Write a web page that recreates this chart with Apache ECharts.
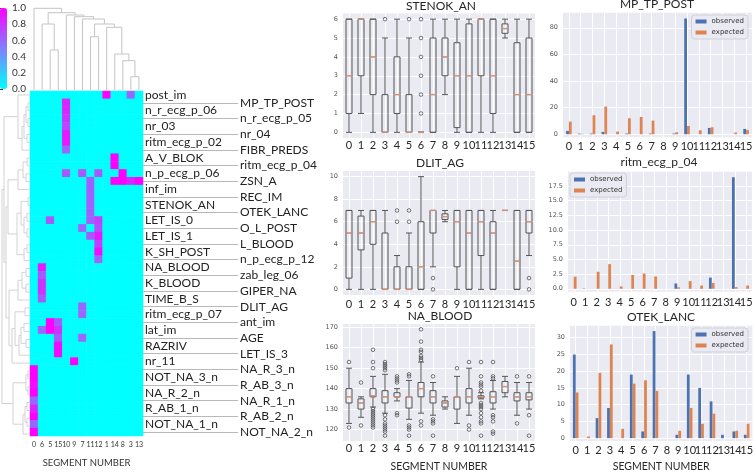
<!DOCTYPE html>
<html><head><meta charset="utf-8">
<script src="https://cdn.jsdelivr.net/npm/echarts@6/dist/echarts.min.js"></script>
<style>html,body{margin:0;padding:0;background:#fff}#c{width:756px;height:473px}</style>
</head><body><div id="c"></div>
<script>
// ---------------- DATA ----------------
const heatCols = ['0','6','5','15','10','9','7','11','12','1','14','8','3','13'];
const leftLabels = ['post_im','n_r_ecg_p_06','nr_03','ritm_ecg_p_02','A_V_BLOK','n_p_ecg_p_06','inf_im','STENOK_AN','LET_IS_0','LET_IS_1','K_SH_POST','NA_BLOOD','K_BLOOD','TIME_B_S','ritm_ecg_p_07','lat_im','RAZRIV','nr_11','NOT_NA_3_n','NA_R_2_n','R_AB_1_n','NOT_NA_1_n'];
const rightLabels = ['MP_TP_POST','n_r_ecg_p_05','nr_04','FIBR_PREDS','ritm_ecg_p_04','ZSN_A','REC_IM','OTEK_LANC','O_L_POST','L_BLOOD','n_p_ecg_p_12','zab_leg_06','GIPER_NA','DLIT_AG','ant_im','AGE','LET_IS_3','NA_R_3_n','R_AB_3_n','NA_R_1_n','R_AB_2_n','NOT_NA_2_n'];
// non-cyan cells: [column index, row index, value]
const heatCells = [
 [9,0,1.0],[12,0,0.6],
 [4,1,0.85],[4,2,0.85],[4,3,0.8],[4,4,0.72],[4,5,0.9],[4,6,0.9],[4,7,0.6],
 [10,8,1.0],[10,9,1.0],
 [11,10,1.0],[4,10,0.65],[6,10,0.65],[8,10,0.65],
 [10,11,1.0],[11,11,1.0],[12,11,0.85],[13,11,1.0],
 [7,11,0.62],[7,12,0.62],[7,13,0.62],[7,14,0.62],[7,15,0.62],
 [2,16,0.65],[7,16,0.62],[8,16,0.75],
 [6,17,0.6],[8,17,0.7],
 [7,18,0.65],[8,18,0.9],
 [8,19,0.75],[8,20,0.95],[8,21,0.6],
 [1,22,0.9],[1,23,0.65],[1,24,0.8],[1,25,0.8],[1,26,0.65],
 [6,27,0.6],[6,28,0.6],
 [2,29,1.0],[3,29,0.65],
 [1,30,0.6],[2,30,1.0],[3,30,0.8],
 [3,31,0.65],[6,31,0.6],
 [3,32,0.95],[3,33,0.95],
 [5,34,1.0],
 [0,35,1.0],[0,36,1.0],[0,37,0.95],[0,38,1.0],[0,39,0.6],[0,40,0.85],[0,41,1.0],[0,42,0.6],[0,43,1.0]
];
const colorbarTicks = [0,0.2,0.4,0.6,0.8,1.0];
// dendrogram merges: [child a, child b, height]; leaves are display positions
const topLinkage = [
 [12,13,13.3],[11,14,29.3],[10,15,36],[2,3,40],[7,8,53.3],[9,16,62.7],
 [1,17,66],[18,19,66],[6,21,71],[5,22,73.3],[4,23,75],[20,24,77.3],[0,25,81.7]
];
const leftLinkage = [
 [1,2,2],[3,4,2],[44,45,4],[5,6,3],[46,47,6],[48,7,8],[0,49,12],
 [8,9,3],[10,11,4],[51,52,7],[53,12,12],
 [13,14,2],[15,16,3],[17,18,3],[56,57,6],[55,58,9],[19,20,3],[60,21,6],[59,61,13],
 [22,23,4],[24,25,4],[63,64,8],[65,26,12],
 [27,28,5],[29,30,6],[31,32,4],[68,69,9],[70,33,11],[67,71,15],[72,34,18],
 [35,36,2],[37,38,2],[74,75,4],[39,40,3],[41,42,3],[77,78,5],[79,43,7],[76,80,17],
 [54,62,22],[66,73,21],[82,83,24],[50,84,26],[85,81,28]
];

const segments = ['0','1','2','3','4','5','6','7','8','9','10','11','12','13','14','15'];

// boxplots: [lower whisker, Q1, median, Q3, upper whisker]
const stenokBox = [
 [0,1,3,6,6],[1,3,6,6,6],[0,2,4,6,6],[0,0,0,2,5],[0,1,2,4,6],[0,0,0,2,5],[0,0,0,0,0],[0,0,2,5,6],
 [2,3,4,5,6],[0,0.25,3,4.75,6],[0,0,3,5.75,6],[0,3,6,6,6],[0,1,3,6,6],[5,5.25,5.5,5.75,6],[0,0,2,4.75,6],[0,0,2,5,6]
];
const stenokOut = [[],[],[],[6],[],[6],[1,2,3,4,5,6],[],[],[],[],[],[],[],[],[]];
const stenokTicks = [0,1,2,3,4,5,6];

const dlitBox = [
 [0,1,5,7,7],[0,3.5,5,6.5,7],[0,4,6,7,7],[0,0,0,5,7],[0,0,0,2,3],[0,0,0,2,5],[0,0,2,6,10],[2,5,7,7,7],
 [6,6.2,6.45,6.7,7],[0,2,6,7,7],[0,0,5,7,7],[0,3,6,7,7],[0,0,5,6,7],[7,7,7,7,7],[0,0,2.5,7,7],[3,5,6,7,7]
];
const dlitOut = [[],[],[],[],[6,7],[6,7],[],[1,0],[],[],[],[],[],[],[],[1,0]];
const dlitTicks = [0,2,4,6,8,10];

const naBox = [
 [123,133,136,140,150],[126,130,133,135,136],[131,136,136.5,140,146],[128,133,136,139,147],
 [134,136,136,138,140],[125,130.5,136,136,144],[128,136,140,143,153],[127,133,136,139,143],
 [130,131,133,134,136],[123,130,136,136,146],[127,133,136,140,150],[135,135.5,136,136.5,138],
 [130,133,136,138.5,144],[136,138,141,143.5,146],[127,134,136,138,143],[130,134.5,136,138,143]
];
const naOut = [
 [153,121],[143,122],[150,153,159,130,129,128,127,126,125,124,123,122,121],
 [149,150,151,152,153,127,125,123,122,121,120,119,117],[143,144,145,146,128,127],[146,147,122,121,120,117],
 [154,155,156,158,159,163,169,124,122],[146,125,124,123,117],[],[150],[153,122,120],
 [153,146,143,142,141,139,133,132,131,130,128,126,124,123,117],[153,146,145,127,126,124,119,118],[],[146,123],[146,127,117]
];
const naTicks = [120,130,140,150,160,170];

const mpObserved = [2.5,0.5,0.5,1.75,0,0.5,0,0.5,0,0.5,87,0,4.75,0,0,4];
const mpExpected = [9.5,0.3,14.25,20.75,2,12,13,10.25,0,1.5,6.25,3,5.25,0,1.25,3.25];
const mpTicks = [0,20,40,60,80];
const ritmObserved = [0,0.05,0,0,0,0,0,0,0,0.9,0,0,1.9,0,19,0];
const ritmExpected = [2.07,0,2.9,4.2,0.4,2.35,2.6,2.1,0,0.25,1.3,0.55,1.0,0,0.28,0.55];
const ritmTicks = [0,2.5,5,7.5,10,12.5,15,17.5];
const otekObserved = [25,0,6,9,0,19,2,32,0,1,19,15,11,1,2,1];
const otekExpected = [13.65,0.5,19.5,28,2.8,16.3,17.3,14.1,0,2.2,9,4.3,7.3,0,2.2,4.3];
const otekTicks = [0,5,10,15,20,25,30];

// ---------------- BUILD ----------------
const FONT = 'Lato, "Open Sans", sans-serif';
const BG = '#EAEAF2';
const OBS = '#4C72B0', EXP = '#DD8452';
const TXT = '#262626';

const rows = [];
leftLabels.forEach((l,i)=>{ rows.push(l); rows.push(rightLabels[i]); });
const cellMap = {};
heatCells.forEach(c=>{ cellMap[c[0]+'_'+c[1]] = c[2]; });
const heatData = [];
for (let r=0;r<rows.length;r++) for (let c=0;c<heatCols.length;c++) heatData.push([c,r,cellMap[c+'_'+r]||0]);

function dendro(linkage, n, vertical){
  const pos=[], hgt=[];
  for(let i=0;i<n;i++){pos[i]=i+0.5;hgt[i]=0;}
  const out=[];
  linkage.forEach((m,k)=>{
    const a=m[0], b=m[1], h=m[2], id=n+k;
    const pts=[[pos[a],hgt[a]],[pos[a],h],[pos[b],h],[pos[b],hgt[b]]];
    pos[id]=(pos[a]+pos[b])/2; hgt[id]=h;
    out.push({coords: vertical ? pts : pts.map(p=>[p[1],p[0]])});
  });
  return out;
}

const plotGrid = (left,top,width,height)=>({left,top,width,height,show:true,backgroundColor:BG,borderWidth:0});
const grid = [
  {left:30, top:91, width:113, height:347},
  {left:30, top:0, width:113, height:90},
  {left:0, top:91, width:30, height:347},
  {left:0, top:8, width:7, height:81},
  plotGrid(343,13.5,192,124.5),
  plotGrid(343,171,192,124),
  plotGrid(343,324,192,124),
  plotGrid(563,12.7,189,124.6),
  plotGrid(568,171.7,184,120),
  plotGrid(570,325.7,184,119.3)
];

function catAxis(g, margin, name){
  return {type:'category', gridIndex:g, data:segments, boundaryGap:true,
    axisLine:{show:false}, axisTick:{show:false}, splitLine:{show:false},
    axisLabel:{interval:0, margin, fontSize:11, color:TXT, fontFamily:FONT},
    name: name||'', nameLocation:'middle', nameGap:20,
    nameTextStyle:{fontSize:10.5, color:TXT, fontFamily:FONT}};
}
function vGridAxis(g){
  return {type:'value', gridIndex:g, position:'top', min:-0.5, max:segments.length-0.5,
    axisLine:{show:false}, axisLabel:{show:false},
    axisTick:{show:false, customValues:segments.map((s,i)=>i)},
    splitLine:{show:true, lineStyle:{color:'#fff', width:1}}};
}
function valAxis(g, min, max, ticks, dec){
  return {type:'value', gridIndex:g, min, max,
    axisLine:{show:false}, axisTick:{show:false, customValues:ticks},
    axisLabel:{customValues:ticks, formatter:v=>v.toFixed(dec), fontSize:6.5, color:'#555', margin:5, fontFamily:'DejaVu Sans'},
    splitLine:{show:true, lineStyle:{color:'#fff', width:1}}};
}

const xAxis = [
  {type:'category', gridIndex:0, data:heatCols, axisLine:{show:false}, axisTick:{show:false},
   axisLabel:{interval:0, fontSize:7, color:'#333', margin:5, fontFamily:FONT},
   name:'SEGMENT NUMBER', nameLocation:'middle', nameGap:22, nameTextStyle:{fontSize:9.5, color:'#333', fontFamily:FONT}},
  {type:'value', gridIndex:1, min:0, max:heatCols.length, show:false},
  {type:'value', gridIndex:2, min:0, max:30, inverse:true, show:false},
  {type:'value', gridIndex:3, min:0, max:1, show:false},
  catAxis(4,1.5), vGridAxis(4),
  catAxis(5,3.5), vGridAxis(5),
  catAxis(6,2,'SEGMENT NUMBER'), vGridAxis(6),
  catAxis(7,3.5), vGridAxis(7),
  catAxis(8,5), vGridAxis(8),
  catAxis(9,3.5,'SEGMENT NUMBER'), vGridAxis(9)
];
const labelStyle = {fontSize:12, color:'#222', fontFamily:FONT, margin:2};
const yAxis = [
  {type:'category', gridIndex:0, data:rows, inverse:true, show:false},
  {type:'category', gridIndex:0, data:rows, inverse:true, position:'right',
   axisLine:{show:false}, axisTick:{show:false}, splitLine:{show:false},
   axisLabel:Object.assign({interval:(i)=>i%2===0}, labelStyle)},
  {type:'category', gridIndex:0, data:rows, inverse:true, position:'right', offset:95,
   axisLine:{show:false}, splitLine:{show:false},
   axisTick:{show:true, inside:true, length:95, alignWithLabel:true, interval:(i)=>i%2===1, lineStyle:{color:'#b8b8b8', width:1}},
   axisLabel:Object.assign({interval:(i)=>i%2===1}, labelStyle)},
  {type:'value', gridIndex:1, min:0, max:90, show:false},
  {type:'value', gridIndex:2, min:0, max:rows.length, inverse:true, show:false},
  {type:'value', gridIndex:3, min:0, max:1, position:'right', axisLine:{show:false}, splitLine:{show:false},
   axisTick:{show:true, length:3, customValues:colorbarTicks, lineStyle:{color:'#333'}},
   axisLabel:{customValues:colorbarTicks, formatter:v=>v.toFixed(1), fontSize:10, color:'#333', margin:5, fontFamily:FONT}},
  valAxis(4,-0.3,6.3,stenokTicks,0),
  valAxis(5,-0.5,10.5,dlitTicks,0),
  valAxis(6,114.4,171.6,naTicks,0),
  valAxis(7,-2.3,91.35,mpTicks,0),
  valAxis(8,-0.5,19.95,ritmTicks,1),
  valAxis(9,-0.85,33.6,otekTicks,0)
];

function boxSeries(xi, yi, box, out){
  return [
    {type:'boxplot', xAxisIndex:xi, yAxisIndex:yi, data:box, boxWidth:[6,6], silent:true, z:3,
     itemStyle:{color:'transparent', borderColor:'#555', borderWidth:1}},
    {type:'scatter', xAxisIndex:xi, yAxisIndex:yi, data:box.map((b,i)=>[i,b[2]]), symbol:'rect', symbolSize:[6,1.5],
     itemStyle:{color:'#EE9F78'}, silent:true, z:4},
    {type:'scatter', xAxisIndex:xi, yAxisIndex:yi, data:out.flatMap((a,i)=>a.map(v=>[i,v])), symbol:'circle', symbolSize:3.6,
     itemStyle:{color:'rgba(255,255,255,0)', borderColor:'#444', borderWidth:0.9}, silent:true, z:4}
  ];
}
function barSeries(xi, yi, obs, exp){
  return [
    {type:'bar', name:'observed', xAxisIndex:xi, yAxisIndex:yi, data:obs, barWidth:2.8, barGap:'0%', itemStyle:{color:OBS}, silent:true, z:3},
    {type:'bar', name:'expected', xAxisIndex:xi, yAxisIndex:yi, data:exp, barWidth:2.8, barGap:'0%', itemStyle:{color:EXP}, silent:true, z:3}
  ];
}

const series = [
  {type:'heatmap', xAxisIndex:0, yAxisIndex:0, data:heatData, silent:true, itemStyle:{borderWidth:0}},
  {type:'lines', coordinateSystem:'cartesian2d', xAxisIndex:1, yAxisIndex:3, polyline:true, silent:true,
   data:dendro(topLinkage, heatCols.length, true), lineStyle:{color:'#c4c4c4', width:1, opacity:1}},
  {type:'lines', coordinateSystem:'cartesian2d', xAxisIndex:2, yAxisIndex:4, polyline:true, silent:true,
   data:dendro(leftLinkage, rows.length, false), lineStyle:{color:'#d2d2d2', width:1, opacity:1}},
  ...boxSeries(4,6,stenokBox,stenokOut),
  ...boxSeries(6,7,dlitBox,dlitOut),
  ...boxSeries(8,8,naBox,naOut),
  ...barSeries(10,9,mpObserved,mpExpected),
  ...barSeries(12,10,ritmObserved,ritmExpected),
  ...barSeries(14,11,otekObserved,otekExpected)
];

const titleStyle = {fontSize:12, color:TXT, fontFamily:FONT, fontWeight:'normal'};
const mkTitle = (text, x, y)=>({text, left:x, top:y, textAlign:'center', padding:0, textStyle:titleStyle});
const legendBase = {data:['observed','expected'], orient:'vertical', itemWidth:11, itemHeight:4, itemGap:4,
  padding:[3,4,3,4], selectedMode:false, icon:'rect', backgroundColor:BG, borderColor:'#d0d0d8', borderWidth:1, borderRadius:3,
  textStyle:{fontSize:7, color:'#333', fontFamily:'DejaVu Sans'}};

const option = {
  animation:false,
  backgroundColor:'#fff',
  textStyle:{fontFamily:FONT},
  title:[
    mkTitle('STENOK_AN',441,0),
    mkTitle('DLIT_AG',440,157),
    mkTitle('NA_BLOOD',440,310),
    mkTitle('MP_TP_POST',657,-2),
    mkTitle('ritm_ecg_p_04',659,156),
    mkTitle('OTEK_LANC',661,311)
  ],
  legend:[
    Object.assign({right:8, top:15}, legendBase),
    Object.assign({left:570, top:173}, legendBase),
    Object.assign({right:8, top:328}, legendBase)
  ],
  visualMap:{type:'continuous', min:0, max:1, seriesIndex:0, left:0, top:8, itemWidth:7, itemHeight:81,
    padding:0, calculable:false, orient:'vertical', inRange:{color:['#00FFFF','#FF00FF']}},
  grid, xAxis, yAxis, series
};
const chart = echarts.init(document.getElementById('c'));
chart.setOption(option);
</script></body></html>
